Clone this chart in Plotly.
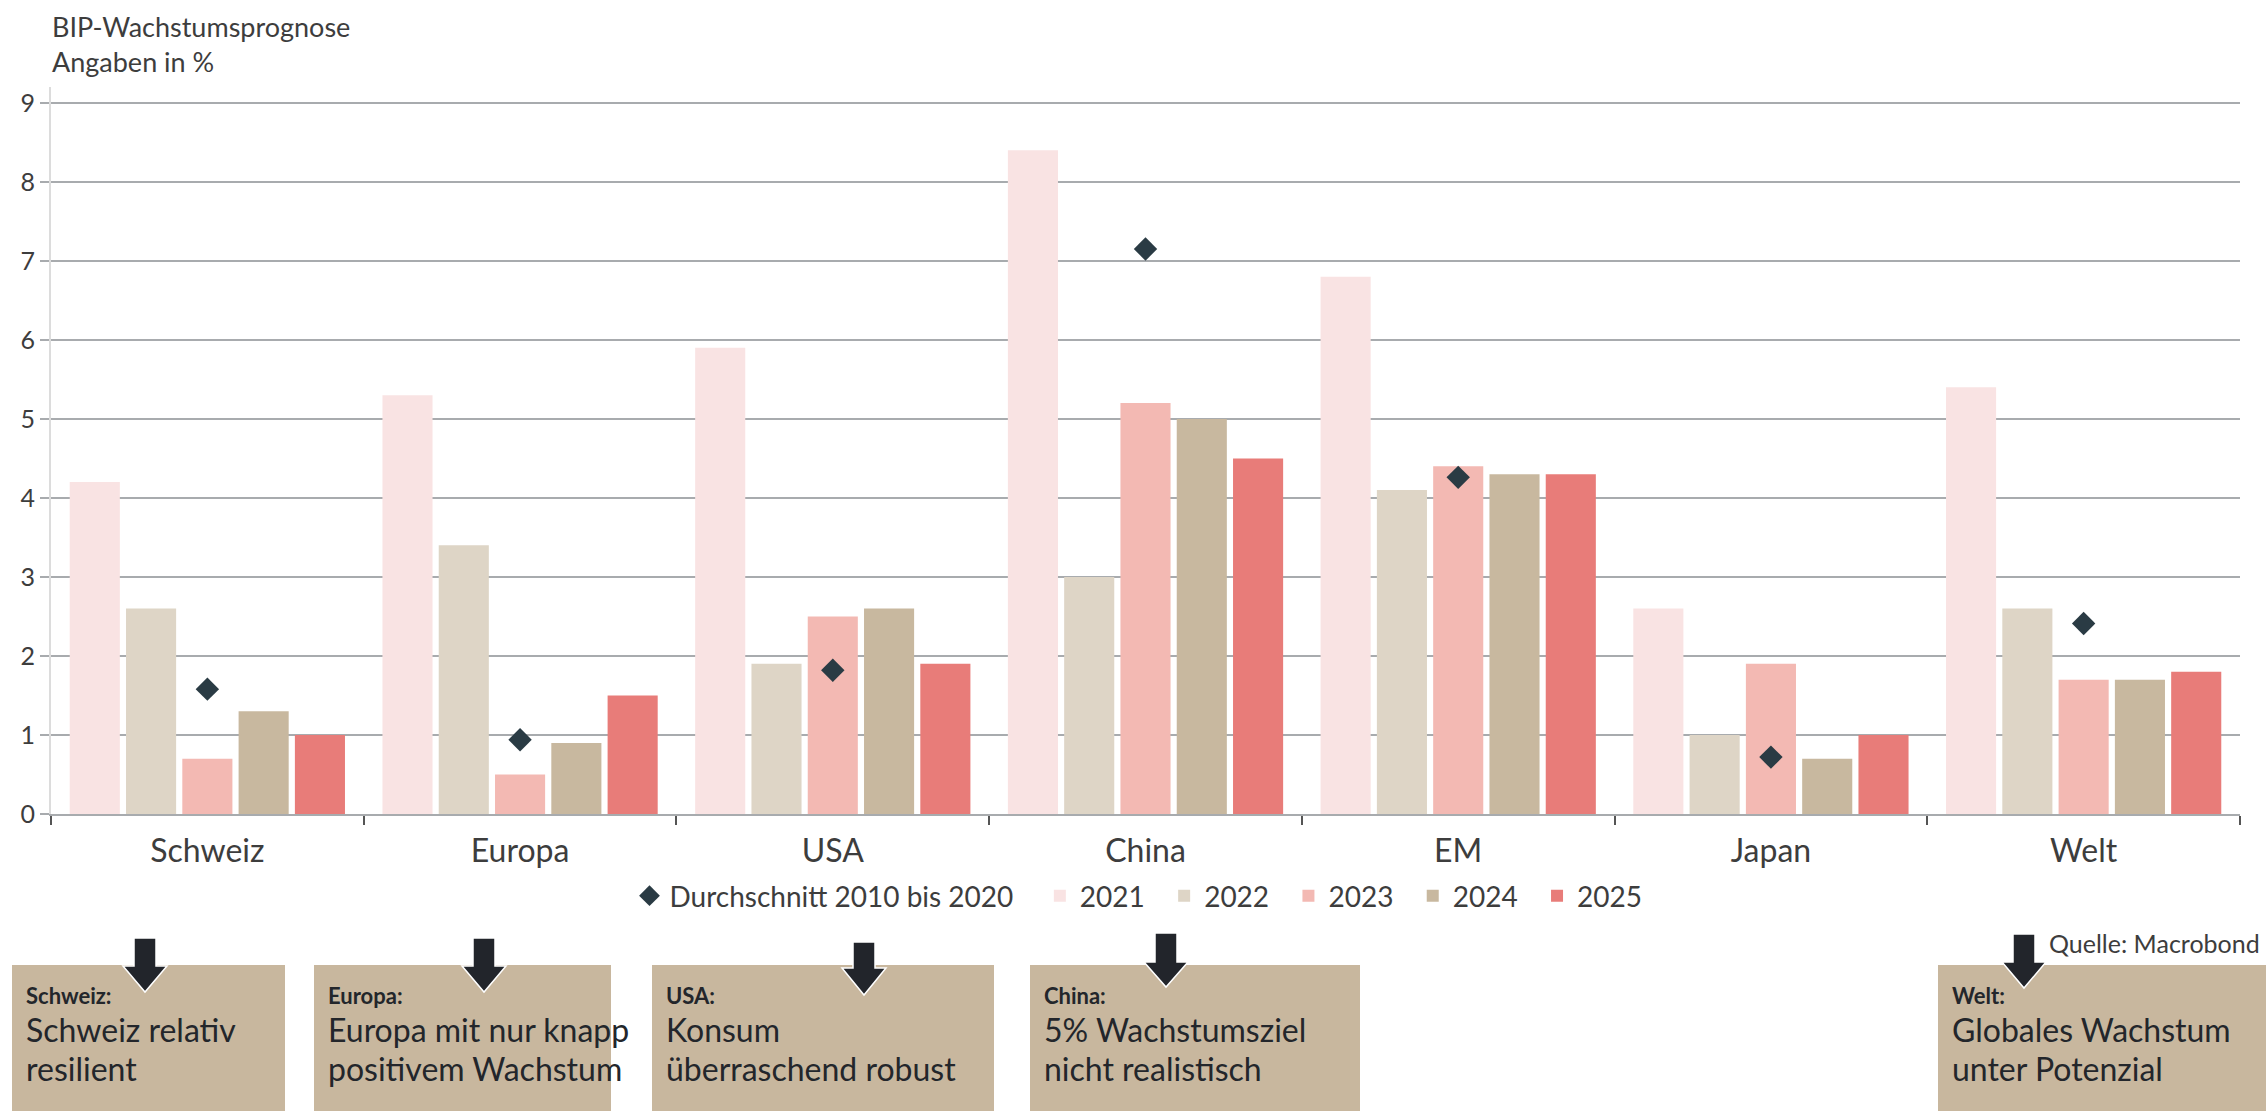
import plotly.graph_objects as go

# GDP growth forecast per region, in percent
regions = ["Schweiz", "Europa", "USA", "China", "EM", "Japan", "Welt"]
years = ["2021", "2022", "2023", "2024", "2025"]
growth_2021 = [4.2, 5.3, 5.9, 8.4, 6.8, 2.6, 5.4]
growth_2022 = [2.6, 3.4, 1.9, 3.0, 4.1, 1.0, 2.6]
growth_2023 = [0.7, 0.5, 2.5, 5.2, 4.4, 1.9, 1.7]
growth_2024 = [1.3, 0.9, 2.6, 5.0, 4.3, 0.7, 1.7]
growth_2025 = [1.0, 1.5, 1.9, 4.5, 4.3, 1.0, 1.8]
avg_2010_2020 = [1.58, 0.94, 1.82, 7.15, 4.26, 0.72, 2.41]

y_ticks = [0, 1, 2, 3, 4, 5, 6, 7, 8, 9]

# commentary boxes below the chart
box_labels = ["Schweiz:", "Europa:", "USA:", "China:", "Welt:"]
box_lines = [
    ["Schweiz relativ", "resilient"],
    ["Europa mit nur knapp", "positivem Wachstum"],
    ["Konsum", "überraschend robust"],
    ["5% Wachstumsziel", "nicht realistisch"],
    ["Globales Wachstum", "unter Potenzial"],
]

series = [growth_2021, growth_2022, growth_2023, growth_2024, growth_2025]
bar_colors = ["#f9e3e3", "#ded5c6", "#f3b9b3", "#c8b89f", "#e87c79"]

FONT = "Lato, Open Sans, sans-serif"
TEXT = "#3d3d3d"
NB = "\u00a0"

W, H = 2266, 1111
L, R, T, B = 51, 2240, 87, 814


def px(x):
    return (x - L) / (R - L)


def py(y):
    return (B - y) / (B - T)


fig = go.Figure()

fig.add_trace(go.Scatter(
    x=regions, y=avg_2010_2020, mode="markers",
    name="Durchschnitt 2010 bis 2020" + NB * 3,
    marker=dict(symbol="diamond", size=18, color="#2a3b44"),
))
for yr, vals, col in zip(years, series, bar_colors):
    fig.add_trace(go.Bar(
        x=regions, y=vals, name=yr + NB * 2,
        marker=dict(color=col, line=dict(width=0)),
    ))

shapes = []
annotations = []

# title
annotations.append(dict(
    text="BIP-Wachstumsprognose<br>Angaben in %", xref="paper", yref="paper",
    x=px(50), y=py(8), xanchor="left", yanchor="top", align="left",
    showarrow=False, font=dict(family=FONT, size=27, color=TEXT),
))

# source
annotations.append(dict(
    text="Quelle: Macrobond", xref="paper", yref="paper",
    x=px(2262), y=py(943), xanchor="right", yanchor="middle",
    showarrow=False, font=dict(family=FONT, size=25, color=TEXT),
))

box_x = [(12, 285), (314, 611), (652, 994), (1030, 1360), (1938, 2266)]
box_top = 965
arrow_cx = [145, 484, 864, 1166, 2024]
arrow_top = [938, 938, 942, 933, 934]
arrow_tip = [992, 992, 995, 987, 988]
head_start = [966, 966, 968, 962, 962]

for (x0, x1), lab, lines in zip(box_x, box_labels, box_lines):
    shapes.append(dict(
        type="rect", xref="paper", yref="paper",
        x0=px(x0), x1=px(x1), y0=py(H + 5), y1=py(box_top),
        fillcolor="#c8b79e", line=dict(width=0),
    ))
    tx = x0 + 12
    annotations.append(dict(
        text="<b>" + lab + "</b>", xref="paper", yref="paper",
        x=px(tx), y=py(995), xanchor="left", yanchor="middle",
        showarrow=False, font=dict(family=FONT, size=22, color="#23262b"),
    ))
    for ln, yy in zip(lines, [1029, 1068]):
        annotations.append(dict(
            text=ln, xref="paper", yref="paper",
            x=px(tx), y=py(yy), xanchor="left", yanchor="middle",
            showarrow=False, font=dict(family=FONT, size=32, color="#23262b"),
        ))

for cx, top, tip, hs in zip(arrow_cx, arrow_top, arrow_tip, head_start):
    sw, hw = 11, 22
    pts = [
        (cx - sw, top), (cx + sw, top), (cx + sw, hs), (cx + hw, hs),
        (cx, tip), (cx - hw, hs), (cx - sw, hs),
    ]
    path = "M " + " L ".join(f"{px(a):.5f},{py(b):.5f}" for a, b in pts) + " Z"
    shapes.append(dict(
        type="path", xref="paper", yref="paper", path=path,
        fillcolor="#22252b", line=dict(color="#ffffff", width=1.5),
    ))

fig.update_layout(
    width=W, height=H,
    margin=dict(l=L, r=W - R, t=T, b=H - B, pad=0),
    paper_bgcolor="white", plot_bgcolor="white",
    barmode="group", bargap=0.1, bargroupgap=0.11,
    font=dict(family=FONT, color=TEXT),
    showlegend=True,
    legend=dict(
        orientation="h", x=0.5, xanchor="center", y=py(896), yanchor="middle",
        font=dict(family=FONT, size=28, color=TEXT), traceorder="normal",
        itemwidth=30,
    ),
    shapes=shapes, annotations=annotations,
)

fig.update_xaxes(
    type="category", categoryorder="array", categoryarray=regions,
    showgrid=False, showline=True, linecolor="#a8abae", linewidth=2,
    ticks="outside", tickson="boundaries", ticklen=9, tickwidth=2,
    tickcolor="#555555", tickfont=dict(family=FONT, size=32, color=TEXT),
    ticklabelstandoff=8,
)
fig.update_yaxes(
    range=[0, 9.2], tickvals=y_ticks, ticktext=[str(v) for v in y_ticks],
    showgrid=True, gridcolor="#a8abae", gridwidth=2,
    zeroline=False, showline=True, linecolor="#dcdcdc", linewidth=2,
    ticks="outside", ticklen=9, tickwidth=2, tickcolor="#a8abae",
    tickfont=dict(family=FONT, size=25, color=TEXT),
)

fig.write_html("out.html")
